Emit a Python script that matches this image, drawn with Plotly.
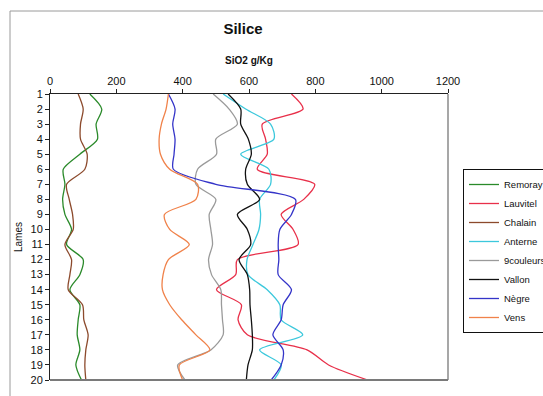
import plotly.graph_objects as go

lames = list(range(1, 21))

remoray = [120, 156, 139, 143, 90, 40, 45, 38, 45, 65, 50, 100, 90, 60, 90, 85, 82, 90, 78, 95]
lauvitel = [728, 763, 640, 650, 655, 625, 798, 765, 697, 733, 748, 565, 560, 502, 577, 567, 595, 775, 840, 958]
chalain = [85, 100, 92, 92, 112, 105, 50, 58, 68, 70, 45, 65, 60, 55, 98, 102, 115, 108, 105, 108]
anterne = [522, 590, 665, 675, 575, 660, 665, 632, 635, 630, 612, 594, 597, 655, 693, 697, 762, 632, 697, 675]
couleurs9 = [492, 540, 565, 500, 502, 445, 440, 500, 480, 485, 490, 478, 487, 515, 517, 520, 522, 485, 385, 407]
vallon = [537, 575, 575, 598, 607, 590, 595, 632, 565, 595, 605, 570, 595, 602, 603, 607, 610, 610, 597, 592]
negre = [357, 377, 370, 377, 374, 372, 500, 740, 728, 693, 688, 690, 688, 728, 703, 697, 672, 703, 697, 667]
vens = [357, 350, 336, 329, 333, 361, 445, 440, 345, 361, 420, 357, 341, 339, 361, 397, 440, 482, 390, 400]

series = [
    ("Remoray", remoray, "#2a8a2a"),
    ("Lauvitel", lauvitel, "#e8304a"),
    ("Chalain", chalain, "#8c4a2c"),
    ("Anterne", anterne, "#3cc8dc"),
    ("9couleurs", couleurs9, "#9a9a9a"),
    ("Vallon", vallon, "#111111"),
    ("Nègre", negre, "#3434c8"),
    ("Vens", vens, "#f0824a"),
]

x_ticks = [0, 200, 400, 600, 800, 1000, 1200]

fig = go.Figure()
for name, vals, col in series:
    fig.add_trace(go.Scatter(
        x=vals, y=lames, name=name, mode="lines",
        line=dict(color=col, width=1.3, shape="spline", smoothing=0.8),
    ))

W, H = 543, 396
L, R, T, B = 50, 448, 94, 380
pw, ph = R - L, B - T

fig.update_layout(
    width=W, height=H,
    margin=dict(l=L, r=W - R, t=T, b=H - B, pad=0, autoexpand=False),
    paper_bgcolor="white", plot_bgcolor="white",
    font=dict(family="Liberation Sans, Arial, sans-serif", color="#111111", size=11),
    title=dict(text="<b>Silice</b>", font=dict(size=15, color="#111111"),
               x=243 / W, xanchor="center", y=1 - 29 / H, yanchor="middle"),
    xaxis=dict(
        side="top", range=[0, 1200], tickvals=x_ticks, ticktext=[str(v) for v in x_ticks],
        showgrid=False, zeroline=False, showline=True, linecolor="#222222", linewidth=1,
        ticks="outside", ticklen=4, tickcolor="#222222", mirror=False,
        tickfont=dict(size=11),
        title=dict(text="<b>SiO2 g/Kg</b>", font=dict(size=10), standoff=8),
    ),
    yaxis=dict(
        range=[20, 1], tickvals=lames, ticktext=[str(v) for v in lames],
        showgrid=False, zeroline=False, showline=True, linecolor="#222222", linewidth=1,
        ticks="outside", ticklen=4, tickcolor="#222222",
        tickfont=dict(size=11),
        title=dict(text="Lames", font=dict(size=10), standoff=6),
    ),
    legend=dict(
        xref="container", yref="container",
        x=463 / W, xanchor="left", y=1 - 169 / H, yanchor="top",
        bordercolor="#111111", borderwidth=1, bgcolor="white",
        font=dict(size=9.5, color="#111111"), tracegroupgap=0,
        itemwidth=30,
    ),
    showlegend=True,
)

# plot-area border (right and bottom, grey)
fig.add_shape(type="line", xref="paper", yref="paper", x0=1, x1=1, y0=0, y1=1,
              line=dict(color="#8a8a8a", width=1.5))
fig.add_shape(type="line", xref="paper", yref="paper", x0=0, x1=1, y0=0, y1=0,
              line=dict(color="#7a7a7a", width=2))
# chart-area border (left and top)
fig.add_shape(type="line", xref="paper", yref="paper",
              x0=(10 - L) / pw, x1=(10 - L) / pw, y0=-(H - B) / ph, y1=1 + (T - 11) / ph,
              line=dict(color="#9a9a9a", width=1))
fig.add_shape(type="line", xref="paper", yref="paper",
              x0=(10 - L) / pw, x1=(W + 20 - L) / pw, y0=1 + (T - 11) / ph, y1=1 + (T - 11) / ph,
              line=dict(color="#9a9a9a", width=1))

fig.write_html("out.html")
